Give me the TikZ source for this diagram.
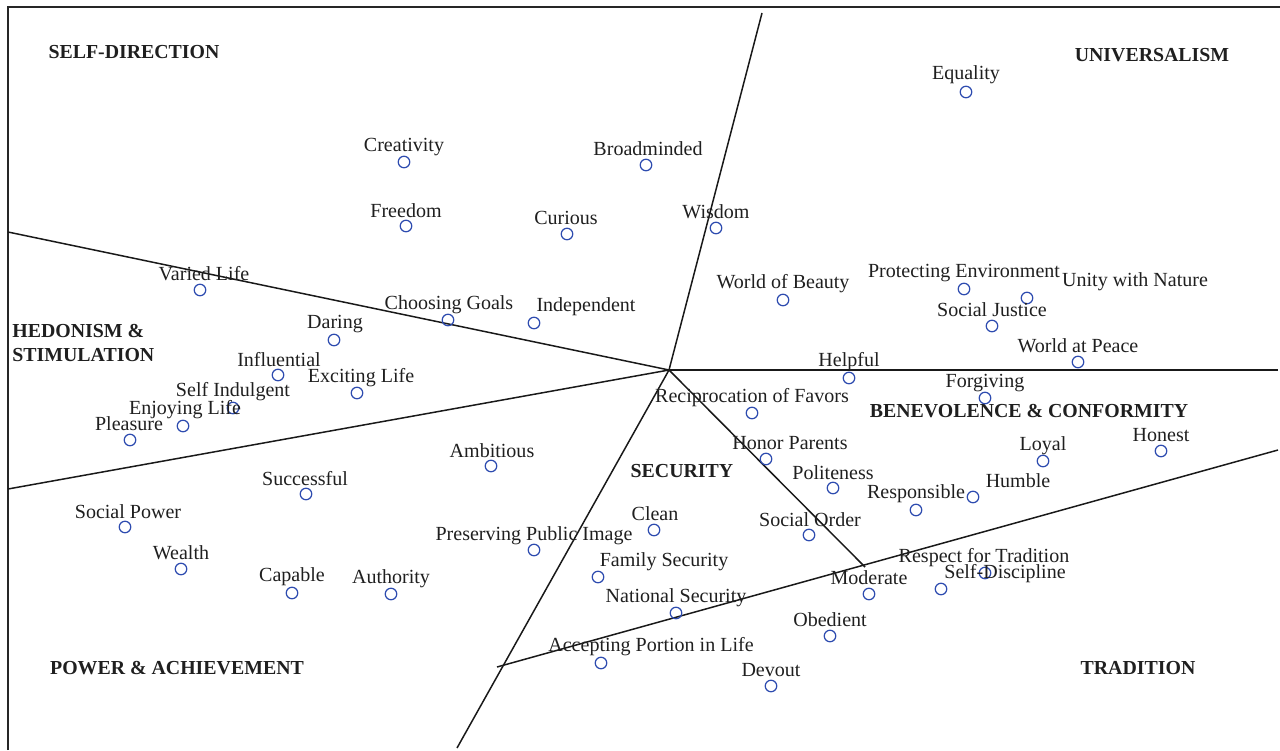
\documentclass[tikz,border=0pt]{standalone}
\usepackage{fontspec}
\setmainfont{Liberation Serif}
\usepackage{tikz}
\usetikzlibrary{positioning}
\definecolor{ptblue}{RGB}{45,75,175}

\begin{document}
\begin{tikzpicture}[x=0.02cm, y=-0.02cm,
				pt/.style={circle, draw=ptblue, line width=0.7pt, minimum size=0.23cm, inner sep=0pt},
				lbl/.style={inner sep=0pt, yshift=-0.6, text=black!88, font=\fontsize{11.4}{13}\selectfont},
				region/.style={inner sep=0pt, text=black!88, font=\fontsize{11.3}{13.4}\selectfont\bfseries, align=left},
				border/.style={line width=1.1pt, black!85},
				cut/.style={line width=0.85pt, black!90}]
				\useasboundingbox (0,0) rectangle (1280,750);
				\draw[border] (8,750) -- (8,7) -- (1280,7);
				% boundary lines
				\coordinate (c) at (669,370);
				\coordinate (top) at (762,13);
				\coordinate (lu) at (8,232);
				\coordinate (ll) at (8,489);
				\coordinate (rt) at (1278,370);
				\coordinate (bot) at (457,748);
				\coordinate (mid) at (865,567);
				\coordinate (tl) at (497,667);
				\coordinate (tr) at (1278,450);
				\draw[cut] (c) -- (top);
				\draw[cut] (c) -- (lu);
				\draw[cut] (c) -- (ll);
				\draw[cut] (c) -- (rt);
				\draw[cut] (c) -- (bot);
				\draw[cut] (c) -- (mid);
				\draw[cut] (tl) -- (tr);
				% regions
				\node at (134,52) (sd) [region] {SELF-DIRECTION};
				\node at (1152,55) (un) [region] {UNIVERSALISM};
				\node at (12,343) (hs) [region, anchor=west] {HEDONISM \&\\STIMULATION};
				\node at (1029,411) (bc) [region] {BENEVOLENCE \& CONFORMITY};
				\node at (682,471) (se) [region] {SECURITY};
				\node at (177,668) (pa) [region] {POWER \& ACHIEVEMENT};
				\node at (1138,668) (tra) [region] {TRADITION};
				% values
				\node at (966,92) (equality) [pt] {};
				\node at (966,74) (equalityl) [lbl] {Equality};
				\node at (404,162) (creativity) [pt] {};
				\node at (404,146) (creativityl) [lbl] {Creativity};
				\node at (646,165) (broad) [pt] {};
				\node at (648,148) (broadl) [lbl] {Broadminded};
				\node at (406,226) (freedom) [pt] {};
				\node at (406,210) (freedoml) [lbl] {Freedom};
				\node at (567,234) (curious) [pt] {};
				\node at (566,217) (curiousl) [lbl] {Curious};
				\node at (716,228) (wisdom) [pt] {};
				\node at (716,211) (wisdoml) [lbl] {Wisdom};
				\node at (200,290) (varied) [pt] {};
				\node at (204,273) (variedl) [lbl] {Varied Life};
				\node at (783,300) (beauty) [pt] {};
				\node at (783,283) (beautyl) [lbl] {World of Beauty};
				\node at (964,289) (environ) [pt] {};
				\node at (964,272) (environl) [lbl] {Protecting Environment};
				\node at (1027,298) (unity) [pt] {};
				\node at (1135,281) (unityl) [lbl] {Unity with Nature};
				\node at (992,326) (justice) [pt] {};
				\node at (992,309) (justicel) [lbl] {Social Justice};
				\node at (448,320) (goals) [pt] {};
				\node at (449,304) (goalsl) [lbl] {Choosing Goals};
				\node at (534,323) (indep) [pt] {};
				\node at (586,306) (indepl) [lbl] {Independent};
				\node at (334,340) (daring) [pt] {};
				\node at (335,323) (daringl) [lbl] {Daring};
				\node at (1078,362) (peace) [pt] {};
				\node at (1078,345) (peacel) [lbl] {World at Peace};
				\node at (849,378) (helpful) [pt] {};
				\node at (849,361) (helpfull) [lbl] {Helpful};
				\node at (278,375) (influ) [pt] {};
				\node at (279,358) (influl) [lbl] {Influential};
				\node at (357,393) (exciting) [pt] {};
				\node at (361,377) (excitingl) [lbl] {Exciting Life};
				\node at (233,408) (indulg) [pt] {};
				\node at (233,391) (indulgl) [lbl] {Self Indulgent};
				\node at (985,398) (forgiv) [pt] {};
				\node at (985,382) (forgivl) [lbl] {Forgiving};
				\node at (752,413) (recip) [pt] {};
				\node at (752,397) (recipl) [lbl] {Reciprocation of Favors};
				\node at (183,426) (enjoy) [pt] {};
				\node at (185,409) (enjoyl) [lbl] {Enjoying Life};
				\node at (130,440) (pleasure) [pt] {};
				\node at (129,423) (pleasurel) [lbl] {Pleasure};
				\node at (491,466) (ambit) [pt] {};
				\node at (492,450) (ambitl) [lbl] {Ambitious};
				\node at (766,459) (honor) [pt] {};
				\node at (790,442) (honorl) [lbl] {Honor Parents};
				\node at (1161,451) (honest) [pt] {};
				\node at (1161,434) (honestl) [lbl] {Honest};
				\node at (1043,461) (loyal) [pt] {};
				\node at (1043,445) (loyall) [lbl] {Loyal};
				\node at (833,488) (polite) [pt] {};
				\node at (833,472) (politel) [lbl] {Politeness};
				\node at (973,497) (humble) [pt] {};
				\node at (1018,480) (humblel) [lbl] {Humble};
				\node at (306,494) (success) [pt] {};
				\node at (305,477) (successl) [lbl] {Successful};
				\node at (916,510) (respons) [pt] {};
				\node at (916,493) (responsl) [lbl] {Responsible};
				\node at (654,530) (clean) [pt] {};
				\node at (655,513) (cleanl) [lbl] {Clean};
				\node at (809,535) (order) [pt] {};
				\node at (810,519) (orderl) [lbl] {Social Order};
				\node at (125,527) (power) [pt] {};
				\node at (128,511) (powerl) [lbl] {Social Power};
				\node at (534,550) (image) [pt] {};
				\node at (534,535) (imagel) [lbl] {Preserving Public Image};
				\node at (598,577) (family) [pt] {};
				\node at (664,561) (familyl) [lbl] {Family Security};
				\node at (181,569) (wealth) [pt] {};
				\node at (181,552) (wealthl) [lbl] {Wealth};
				\node at (941,589) (respect) [pt] {};
				\node at (984,557) (respectl) [lbl] {Respect for Tradition};
				\node at (985,573) (discip) [pt] {};
				\node at (1005,573) (discipl) [lbl] {Self-Discipline};
				\node at (869,594) (moderate) [pt] {};
				\node at (869,577) (moderatel) [lbl] {Moderate};
				\node at (292,593) (capable) [pt] {};
				\node at (292,576) (capablel) [lbl] {Capable};
				\node at (391,594) (author) [pt] {};
				\node at (391,578) (authorl) [lbl] {Authority};
				\node at (676,613) (national) [pt] {};
				\node at (676,597) (nationall) [lbl] {National Security};
				\node at (830,636) (obedient) [pt] {};
				\node at (830,619) (obedientl) [lbl] {Obedient};
				\node at (601,663) (accept) [pt] {};
				\node at (651,646) (acceptl) [lbl] {Accepting Portion in Life};
				\node at (771,686) (devout) [pt] {};
				\node at (771,669) (devoutl) [lbl] {Devout};
			\end{tikzpicture}
\end{document}
